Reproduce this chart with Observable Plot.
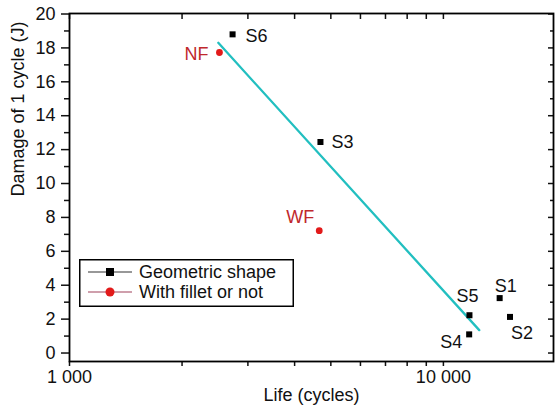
<!DOCTYPE html>
<html>
<head>
<meta charset="utf-8">
<script src="https://cdn.jsdelivr.net/npm/d3@7"></script>
<script src="https://cdn.jsdelivr.net/npm/@observablehq/plot@0.6"></script>
<style>
  body { margin: 0; background: #fff; }
  #wrap { position: relative; width: 555px; height: 414px; font-family: "Liberation Sans", Arial, sans-serif; }
  #legend { position: absolute; left: 79px; top: 259px; }
</style>
</head>
<body>
<div id="wrap"></div>
<script>
// ---- data ----
const geoNames = ["S1", "S2", "S3", "S4", "S5", "S6"];
const geoLife = [14140, 15070, 4690, 11720, 11740, 2730];
const geoDamage = [3.24, 2.13, 12.45, 1.1, 2.23, 18.8];

const filletNames = ["NF", "WF"];
const filletLife = [2518, 4655];
const filletDamage = [17.73, 7.22];

const fitLife = [2500, 12470];
const fitDamage = [18.3, 1.35];

const xTickValues = [1000, 2000, 3000, 4000, 5000, 6000, 7000, 8000, 9000, 10000];
const xTickLabels = {1000: "1 000", 10000: "10 000"};
const yMajorTicks = [0, 2, 4, 6, 8, 10, 12, 14, 16, 18, 20];
const yMinorTicks = [1, 3, 5, 7, 9, 11, 13, 15, 17, 19];

const legendLabels = ["Geometric shape", "With fillet or not"];

// label placement (style only)
const labelStyle = {
  S1: {dx: 6, dy: -12, anchor: "middle"},
  S2: {dx: 12, dy: 16, anchor: "middle"},
  S3: {dx: 11, dy: 0, anchor: "start"},
  S4: {dx: -7, dy: 8, anchor: "end"},
  S5: {dx: -2, dy: -19, anchor: "middle"},
  S6: {dx: 13, dy: 2, anchor: "start"},
  NF: {dx: -11, dy: 2, anchor: "end"},
  WF: {dx: -19, dy: -13, anchor: "middle"}
};

const geo = geoNames.map((n, i) => ({name: n, life: geoLife[i], damage: geoDamage[i]}));
const fil = filletNames.map((n, i) => ({name: n, life: filletLife[i], damage: filletDamage[i]}));
const fit = fitLife.map((l, i) => ({life: l, damage: fitDamage[i]}));

const red = "#e21a1a";
const redText = "#c0282c";
const teal = "#22bfc0";
const font = 18;

const labelMarks = [];
for (const d of geo) {
  const s = labelStyle[d.name];
  labelMarks.push(Plot.text([d], {x: "life", y: "damage", text: "name", dx: s.dx, dy: s.dy, textAnchor: s.anchor, fill: "#111", fontSize: font}));
}
for (const d of fil) {
  const s = labelStyle[d.name];
  labelMarks.push(Plot.text([d], {x: "life", y: "damage", text: "name", dx: s.dx, dy: s.dy, textAnchor: s.anchor, fill: redText, fontSize: font}));
}

const chart = Plot.plot({
  width: 555,
  height: 414,
  marginLeft: 69,
  marginRight: 2,
  marginTop: 13,
  marginBottom: 53,
  style: {fontFamily: "'Liberation Sans', Arial, sans-serif", fontSize: font + "px", background: "#fff", color: "#111"},
  x: {type: "log", domain: [1000, 19700]},
  y: {domain: [-0.5, 20.03]},
  marks: [
    Plot.line(fit, {x: "life", y: "damage", stroke: teal, strokeWidth: 2.3}),
    Plot.dot(geo, {x: "life", y: "damage", symbol: "square", r: 3.4, fill: "#000", stroke: null}),
    Plot.dot(fil, {x: "life", y: "damage", r: 3.4, fill: red, stroke: null}),
    ...labelMarks,
    // bottom axis
    Plot.axisX({anchor: "bottom", ticks: xTickValues, tickSize: 5, tickPadding: 4, tickFormat: d => xTickLabels[d] || "", label: null, fontSize: font, strokeWidth: 1.5}),
    // top mirrored ticks (inward)
    Plot.axisX({anchor: "top", ticks: xTickValues, tickSize: -5, tickFormat: () => "", label: null, strokeWidth: 1.5}),
    // left axis
    Plot.axisY({anchor: "left", ticks: yMajorTicks, tickSize: 8, tickPadding: 6, label: null, fontSize: font, strokeWidth: 1.5}),
    Plot.axisY({anchor: "left", ticks: yMinorTicks, tickSize: 5, tickFormat: () => "", label: null, strokeWidth: 1.5}),
    // right mirrored ticks (inward)
    Plot.axisY({anchor: "right", ticks: yMajorTicks, tickSize: -6, tickFormat: () => "", label: null, strokeWidth: 1.5}),
    Plot.axisY({anchor: "right", ticks: yMinorTicks, tickSize: -4, tickFormat: () => "", label: null, strokeWidth: 1.5}),
    Plot.frame({stroke: "#000", strokeWidth: 1.8}),
    Plot.text(["Life (cycles)"], {frameAnchor: "bottom", dy: 39, fontSize: font, fill: "#111"}),
    Plot.text(["Damage of 1 cycle (J)"], {frameAnchor: "left", dx: -51, dy: 9, rotate: -90, fontSize: font, fill: "#111"})
  ]
});

const wrap = document.getElementById("wrap");
wrap.appendChild(chart);

// legend overlay
const lg = d3.select(wrap).append("div").attr("id", "legend")
  .append("svg").attr("width", 216).attr("height", 49);
lg.append("rect").attr("x", 0.75).attr("y", 0.75).attr("width", 213.5).attr("height", 46.5)
  .attr("fill", "#fff").attr("stroke", "#000").attr("stroke-width", 1.5);
const rows = [
  {label: legendLabels[0], line: "#333", fill: "#000", shape: "square"},
  {label: legendLabels[1], line: "#a0405a", fill: red, shape: "circle"}
];
rows.forEach((r, i) => {
  const cy = 13 + i * 20;
  lg.append("line").attr("x1", 9).attr("x2", 53).attr("y1", cy).attr("y2", cy)
    .attr("stroke", r.line).attr("stroke-width", 1.1);
  if (r.shape === "square") {
    lg.append("rect").attr("x", 31 - 4).attr("y", cy - 4).attr("width", 8).attr("height", 8).attr("fill", r.fill);
  } else {
    lg.append("circle").attr("cx", 31).attr("cy", cy).attr("r", 4.5).attr("fill", r.fill);
  }
  lg.append("text").attr("x", 60).attr("y", cy).attr("dy", "0.35em")
    .attr("font-family", "'Liberation Sans', Arial, sans-serif").attr("font-size", 18)
    .attr("fill", "#111").text(r.label);
});
</script>
</body>
</html>
